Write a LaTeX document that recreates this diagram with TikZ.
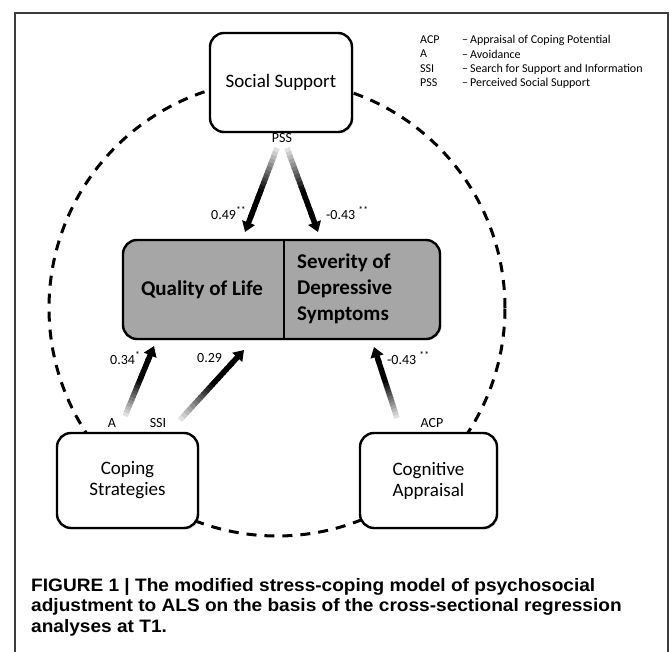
\documentclass[tikz,border=0pt]{standalone}
\usepackage{fontspec}
\setmainfont{Carlito}
\newfontfamily\capfont[FakeStretch=1.06]{Liberation Sans}
\usetikzlibrary{arrows.meta,calc,shadows}
\definecolor{coregray}{RGB}{166,166,166}
\definecolor{framegray}{RGB}{60,60,60}
\newcommand\shadedarrow[2]{%
  \foreach \k in {0,...,17}{%
    \pgfmathsetmacro\gA{\k*0.045}%
    \pgfmathsetmacro\gB{(\k+1.3)*0.045}%
    \pgfmathsetmacro\gC{min(100,12+88*\k/11)}%
    \draw[line width=5.5pt, draw=black!\gC] ($(#1)!\gA!(#2)$) -- ($(#1)!\gB!(#2)$);
  }%
  \draw[line width=5.5pt, -{Triangle[width=13pt,length=10pt]}] ($(#1)!0.78!(#2)$) -- (#2);
}
\begin{document}
\begin{tikzpicture}[x=1pt,y=-1pt,
  box/.style={draw=black, line width=2.4pt, rounded corners=14pt, fill=white, inner sep=0pt, align=center, font=\fontsize{19}{21}\selectfont,
    drop shadow={shadow xshift=1.5pt, shadow yshift=-1.5pt, opacity=0.25}},
  lab/.style={font=\fontsize{14}{16}\selectfont, inner sep=0pt},
  coef/.style={font=\fontsize{14}{16}\selectfont, inner sep=0pt, anchor=west},
  legend/.style={font=\fontsize{12}{14}\selectfont, inner sep=0pt, anchor=west},
  corefont/.style={font=\bfseries\fontsize{21}{26}\selectfont, inner sep=0pt},
  captext/.style={font=\capfont\bfseries\fontsize{18}{20}\selectfont, inner sep=0pt, anchor=base west},
]
\useasboundingbox (0,0) rectangle (670,652);
\draw[framegray, line width=1.3pt] (15,652) -- (15,13) -- (668,13) -- (668,652);
\draw[line width=3pt, dash pattern=on 10pt off 8pt] (277,308) circle (228pt);

\node[box, minimum width=142pt, minimum height=99pt] (ss) at (281,82.5) {Social Support};
\node[box, fill=coregray, minimum width=317pt, minimum height=99pt] (core) at (281.5,289.5) {};
\coordinate (dtop) at (284,240);
\coordinate (dbot) at (284,339);
\draw[line width=1.2pt] (dtop) -- (dbot);
\node[corefont] (qol) at (202,290) {Quality of Life};
\node[corefont, anchor=west, align=left] (sev) at (297,289) {Severity of\\Depressive\\Symptoms};
\node[box, minimum width=141pt, minimum height=95pt] (cs) at (127.5,480.5) {Coping\\Strategies};
\node[box, minimum width=137pt, minimum height=95pt] (ca) at (428.5,480.5) {Cognitive\\Appraisal};

\node[lab] (pss) at (282,138) {PSS};
\node[lab] (la) at (112,423) {A};
\node[lab] (lssi) at (158,423) {SSI};
\node[lab] (lacp) at (432,423) {ACP};

\coordinate (t1) at (277,148); \coordinate (h1) at (245,232);
\coordinate (t2) at (287,148); \coordinate (h2) at (318,232);
\coordinate (t3) at (125,416); \coordinate (h3) at (154,346);
\coordinate (t4) at (180,420); \coordinate (h4) at (244,350);
\coordinate (t5) at (397,418); \coordinate (h5) at (374,347);
\shadedarrow{t1}{h1}
\shadedarrow{t2}{h2}
\shadedarrow{t3}{h3}
\shadedarrow{t4}{h4}
\shadedarrow{t5}{h5}

\node[coef] (c1) at (211,213) {0.49\textsuperscript{**}};
\node[coef] (c2) at (326,213) {-0.43 \textsuperscript{**}};
\node[coef] (c3) at (110,358) {0.34\textsuperscript{*}};
\node[coef] (c4) at (197,358) {0.29};
\node[coef] (c5) at (387,358) {-0.43 \textsuperscript{**}};

\node[legend] (k1) at (420,40) {ACP};
\node[legend] (k2) at (420,54) {A};
\node[legend] (k3) at (420,69) {SSI};
\node[legend] (k4) at (420,83) {PSS};
\node[legend] (v1) at (462,40) {–\,Appraisal of Coping Potential};
\node[legend] (v2) at (462,54) {–\,Avoidance};
\node[legend] (v3) at (462,69) {–\,Search for Support and Information};
\node[legend] (v4) at (462,83) {–\,Perceived Social Support};

\node[captext] (cap1) at (31,591) {FIGURE 1 | The modified stress-coping model of psychosocial};
\node[captext] (cap2) at (31,611.5) {adjustment to ALS on the basis of the cross-sectional regression};
\node[captext] (cap3) at (31,632) {analyses at T1.};
\end{tikzpicture}
\end{document}
